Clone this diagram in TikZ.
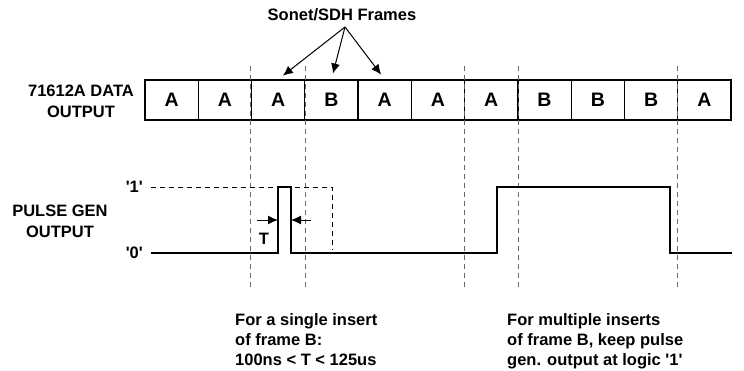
\documentclass[tikz,border=0pt]{standalone}
\usepackage{fontspec}
\setmainfont{Liberation Sans}
\usetikzlibrary{arrows.meta}

\begin{document}
\begin{tikzpicture}[x=1pt,y=-1pt,
    lbl/.style={font=\fontsize{16.5}{21}\selectfont\bfseries,inner sep=0pt,align=center},
    note/.style={font=\fontsize{16.5}{20}\selectfont\bfseries,inner sep=0pt,align=left,anchor=north west},
    frame/.style={draw,line width=1.3pt,minimum width=53.27pt,minimum height=40pt,inner sep=0pt,
      font=\fontsize{19.5}{20}\selectfont\bfseries},
    guide/.style={black!60,line width=0.9pt,dash pattern=on 5pt off 4pt},
    level/.style={line width=0.8pt,dash pattern=on 5pt off 4pt},
    wave/.style={line width=1.8pt},
    tip/.style={-{Latex[length=10pt,width=9pt]},line width=1pt}]
  \useasboundingbox (0,0) rectangle (744,370);

  % data output row
  \foreach \f [count=\i] in {A,A,A,B,A,A,A,B,B,B,A}
    \node[frame] (c\i) at ({145+53.27*(\i-0.5)},100) {\f};
  \node[lbl] (dout) at (81,101) {71612A DATA\\OUTPUT};

  \node[lbl] (sonet) at (342,15) {Sonet/SDH Frames};
  \coordinate (hub) at (345,27);
  \foreach \i in {3,4,5}
    \draw[tip,shorten >=6pt] (hub) -- (c\i.north);

  % frame boundaries
  \foreach \i/\side in {3/west,3/east,7/west,7/east,11/west}
    \draw[guide] (c\i.north \side) ++(0,-13) -- ++(0,223);

  % pulse generator
  \node[lbl] (pout) at (60,221) {PULSE GEN\\OUTPUT};
  \node[lbl,anchor=east] (one) at (143,187) {\textquotesingle 1\textquotesingle};
  \node[lbl,anchor=east] (zero) at (143,253) {\textquotesingle 0\textquotesingle};
  \draw[level] ([xshift=8pt]one.east) -- (332,187) -- (332,250);
  \draw[wave] ([xshift=8pt]zero.east) -| (278,187) -| (291,253) -| (497,187) -| (670,253)
    -- (c11.east |- zero.east);

  \draw[tip] (257,220) -- (278,220);
  \draw[tip] (311,220) -- (291,220);
  \node[lbl] (tw) at (264,239) {T};

  \node[note] (single) at (235,313) {For a single insert\\of frame B:\\100ns < T < 125us};
  \node[note] (multi) at (507,313) {For multiple inserts\\of frame B, keep pulse\\gen. output at logic \textquotesingle 1\textquotesingle};
\end{tikzpicture}
\end{document}
